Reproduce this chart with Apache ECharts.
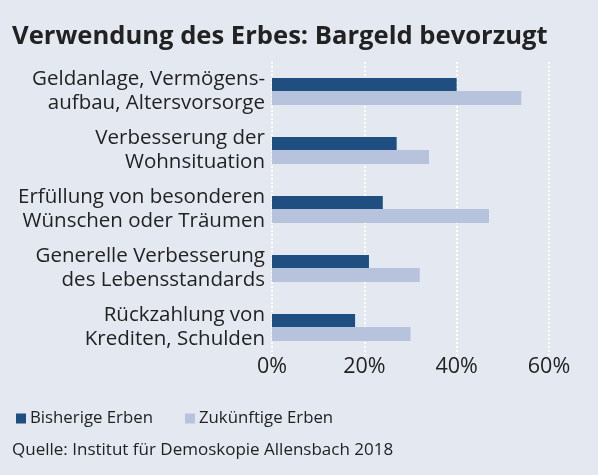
<!DOCTYPE html>
<html><head><meta charset="utf-8">
<script src="https://cdn.jsdelivr.net/npm/echarts@6/dist/echarts.min.js"></script>
<style>html,body{margin:0;padding:0;background:#e4e9f1;}#c{width:598px;height:475px;}</style>
</head><body><div id="c"></div>
<script>
const categories = [
  'Geldanlage, Vermögens-\naufbau, Altersvorsorge',
  'Verbesserung der\nWohnsituation',
  'Erfüllung von besonderen\nWünschen oder Träumen',
  'Generelle Verbesserung\ndes Lebensstandards',
  'Rückzahlung von\nKrediten, Schulden'
];
const bisherige = [40, 27, 24, 21, 18];
const zukuenftige = [54, 34, 47, 32, 30];
const seriesNames = ['Bisherige Erben', 'Zukünftige Erben'];
const titleText = 'Verwendung des Erbes: Bargeld bevorzugt';
const sourceText = 'Quelle: Institut für Demoskopie Allensbach 2018';

const FONT = 'Open Sans';
const chart = echarts.init(document.getElementById('c'), null, {renderer: 'canvas'});
chart.setOption({
  backgroundColor: '#e4e9f1',
  animation: false,
  title: {
    text: titleText, left: 7, top: 19,
    textStyle: {fontFamily: FONT, fontWeight: 'bold', fontSize: 25.6, color: '#222'}
  },
  legend: {
    left: 11, top: 405, itemWidth: 10, itemHeight: 10, itemGap: 32,
    icon: 'rect',
    textStyle: {fontFamily: FONT, fontSize: 16.8, color: '#222', padding: [0,0,0,-1]},
    data: seriesNames
  },
  graphic: [{
    type: 'text', left: 12, top: 442,
    style: {text: sourceText, font: '17px "Open Sans"', fill: '#222'}
  }],
  grid: {left: 272, right: 49, top: 62, bottom: 118, containLabel: false},
  xAxis: {
    type: 'value', min: 0, max: 60, interval: 20,
    axisLine: {show: false}, axisTick: {show: false},
    axisLabel: {formatter: '{value}%', fontFamily: FONT, fontSize: 21.5, color: '#222', margin: -1},
    splitLine: {show: true, lineStyle: {color: '#ffffff', width: 2, type: [2, 2]}}
  },
  yAxis: {
    type: 'category', data: categories, inverse: true,
    axisLine: {show: false}, axisTick: {show: false},
    axisLabel: {fontFamily: FONT, fontSize: 20.5, color: '#222', lineHeight: 24, margin: 7, align: 'right'}
  },
  series: [
    {name: seriesNames[0], type: 'bar', data: bisherige, barWidth: 13, barGap: '0%',
     itemStyle: {color: '#1f4e80'}},
    {name: seriesNames[1], type: 'bar', data: zukuenftige, barWidth: 14, barGap: '0%',
     itemStyle: {color: '#b7c2dc'}}
  ]
});
</script></body></html>
